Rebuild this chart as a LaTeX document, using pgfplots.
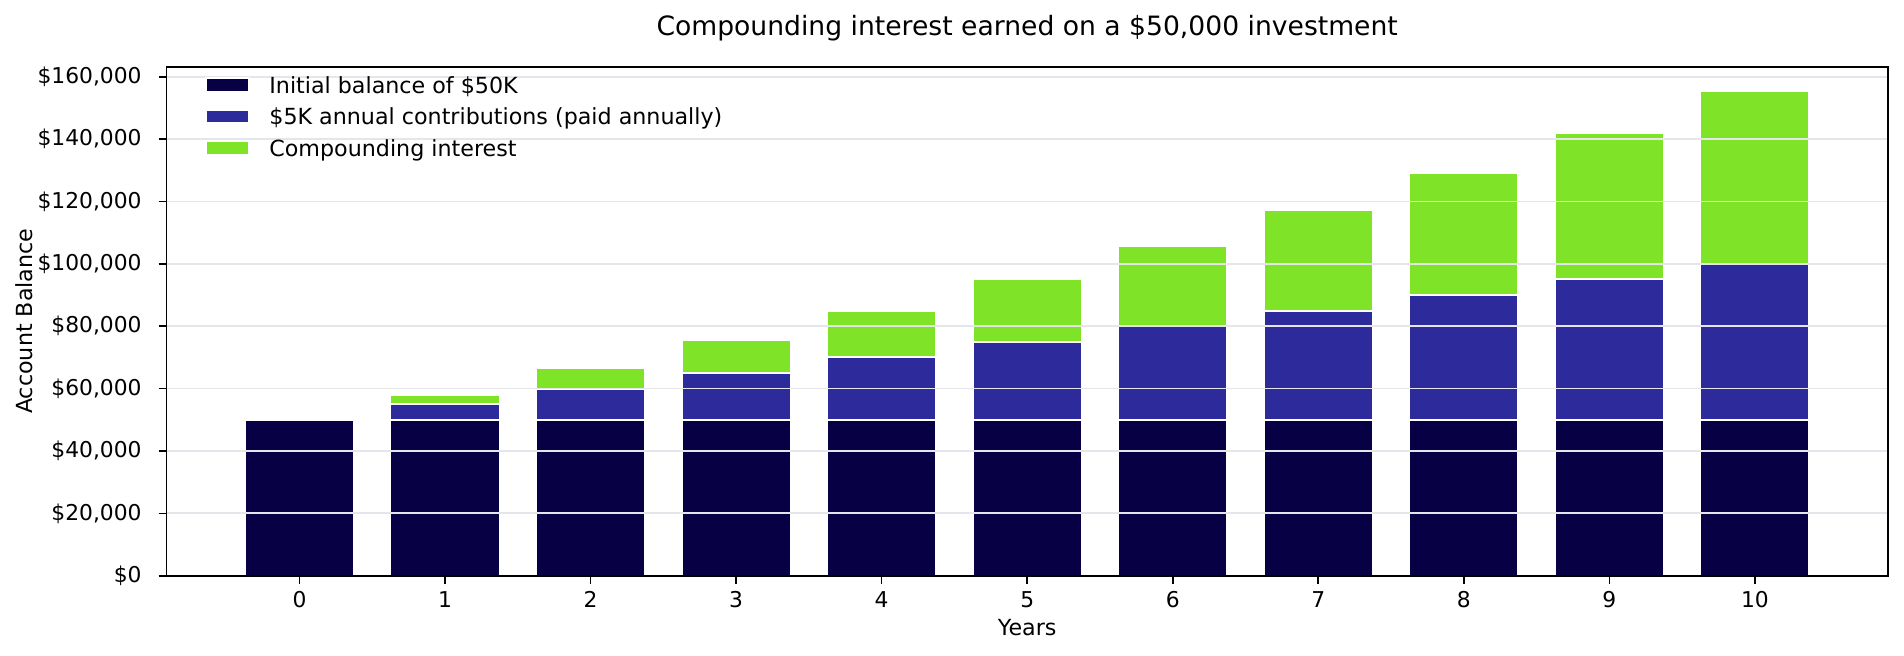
\documentclass[border=0pt]{standalone}
\usepackage{fontspec}
\setmainfont{DejaVu Sans}
\usepackage{pgfplots}
\pgfplotsset{compat=1.18}
\definecolor{cnavy}{HTML}{070044}
\definecolor{cblue}{HTML}{2D2A9B}
\definecolor{cgreen}{HTML}{7FE327}
\definecolor{cgrid}{HTML}{E5E5EC}
\newcommand{\tf}{\fontsize{10.9bp}{13bp}\selectfont}
\newcommand{\lf}{\fontsize{11.1bp}{13bp}\selectfont}
\pgfplotsset{mylegend/.style={legend image code/.code={\draw[##1, draw=white, line width=1bp] (0bp,0.8bp) rectangle (21.7bp,7.5bp);}}}
\begin{document}
\begin{tikzpicture}
\useasboundingbox (-83.35bp,-40.15bp) rectangle (868.65bp,287.85bp);
\begin{axis}[
  at={(0,0)}, anchor=south west, scale only axis,
  width=860.5bp, height=254.5bp,
  ybar stacked, bar width=0.75,
  xmin=-0.9125, xmax=10.9125, ymin=0, ymax=163218,
  scaled y ticks=false,
  xtick={0,1,2,3,4,5,6,7,8,9,10},
  xticklabels={0,1,2,3,4,5,6,7,8,9,10},
  ytick={0,20000,40000,60000,80000,100000,120000,140000,160000},
  yticklabels={{\$0},{\$20,000},{\$40,000},{\$60,000},{\$80,000},{\$100,000},{\$120,000},{\$140,000},{\$160,000}},
  tick pos=left, tick align=outside, major tick length=4bp,
  tick style={black, line width=0.8bp},
  axis line style={black, line width=0.8bp},
  xticklabel style={font=\tf, anchor=base, yshift=-11.9bp, inner sep=0pt},
  yticklabel style={font=\tf, anchor=east, xshift=-8.35bp, inner sep=0pt},
  ymajorgrids, grid style={cgrid, line width=0.9bp}, axis on top,
  every axis title shift=0pt,
  title={Compounding interest earned on a \$50,000 investment},
  title style={at={(axis description cs:0.5,1)}, anchor=base, yshift=15.85bp, inner sep=0pt, font=\fontsize{13.3bp}{15bp}\selectfont},
  xlabel={Years},
  xlabel style={at={(axis description cs:0.5,0)}, anchor=base, yshift=-30bp, inner sep=0pt, font=\lf},
  legend cell align=left,
  legend style={draw=none, fill=none, at={(axis description cs:0,1)}, anchor=north west,
    xshift=19.15bp, yshift=-3bp, inner sep=0pt, outer sep=0pt, row sep=0pt, column sep=9.5bp,
    font=\lf, nodes={inner sep=0pt, outer sep=0pt, text height=10.3bp, text depth=5.4bp, anchor=base west}},
]
\addplot[fill=cnavy, draw=white, line width=1bp, mylegend] coordinates {(0,50000) (1,50000) (2,50000) (3,50000) (4,50000) (5,50000) (6,50000) (7,50000) (8,50000) (9,50000) (10,50000)};
\addlegendentry{Initial balance of \$50K}
\addplot[fill=cblue, draw=white, line width=1bp, mylegend] coordinates {(0,0) (1,5000) (2,10000) (3,15000) (4,20000) (5,25000) (6,30000) (7,35000) (8,40000) (9,45000) (10,50000)};
\addlegendentry{\$5K annual contributions (paid annually)}
\addplot[fill=cgreen, draw=white, line width=1bp, mylegend] coordinates {(0,0) (1,3000) (2,6480) (3,10469) (4,14997) (5,20097) (6,25803) (7,32151) (8,39180) (9,46931) (10,55446)};
\addlegendentry{Compounding interest}
\end{axis}
\node[rotate=90, anchor=base, inner sep=0pt, font=\lf] at (-66.85bp,127.25bp) {Account Balance};
\end{tikzpicture}
\end{document}
